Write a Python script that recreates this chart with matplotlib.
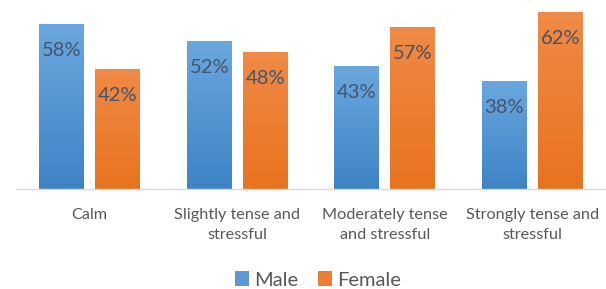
import matplotlib
matplotlib.use('Agg')
import matplotlib.pyplot as plt
import numpy as np

categories = ['Calm', 'Slightly tense and\nstressful', 'Moderately tense\nand stressful', 'Strongly tense and\nstressful']
male = [58, 52, 43, 38]
female = [42, 48, 57, 62]
series_names = ['Male', 'Female']

plt.rcParams['font.family'] = ['Lato', 'DejaVu Sans']

fig = plt.figure(figsize=(6.06, 2.89), dpi=100)
ax = fig.add_axes([16 / 606, 1 - 189 / 289, 590 / 606, 189 / 289])

x = np.arange(len(categories))
w = 0.305
off = 0.19

# gradient fills for the bars (lighter at top)
def grad_bars(bars, top_col, bot_col):
    top_col = np.array(matplotlib.colors.to_rgb(top_col))
    bot_col = np.array(matplotlib.colors.to_rgb(bot_col))
    for b in bars:
        x0, y0 = b.get_x(), b.get_y()
        x1, y1 = x0 + b.get_width(), y0 + b.get_height()
        t = np.linspace(0, 1, 64)[:, None]
        img = (bot_col * (1 - t) + top_col * t)[:, None, :]
        im = ax.imshow(img, extent=[x0, x1, y0, y1], origin='lower',
                       aspect='auto', zorder=2)
        im.set_clip_path(b)

bm = ax.bar(x - off, male, w, color='#5b9bd5', zorder=1, label=series_names[0])
bf = ax.bar(x + off, female, w, color='#ed7d31', zorder=1, label=series_names[1])
grad_bars(bm, '#6aa7de', '#3e84c5')
grad_bars(bf, '#f08a45', '#e8731f')

for bars, vals in ((bm, male), (bf, female)):
    for b, v in zip(bars, vals):
        ax.text(b.get_x() + b.get_width() / 2, v - 9.3, '%d%%' % v,
                ha='center', va='center', fontsize=14.5, color='#44546a', zorder=3)

ax.set_xlim(-0.5, 3.5)
ax.set_ylim(0, 66.3)
ax.set_xticks(x)
ax.set_xticklabels(categories, fontsize=11.7, color='#595959', linespacing=1.5)
ax.tick_params(axis='x', length=0, pad=14)
ax.set_yticks([])
for s in ['top', 'right', 'left']:
    ax.spines[s].set_visible(False)
ax.spines['bottom'].set_color('#d9d9d9')
ax.spines['bottom'].set_linewidth(1.0)

leg = fig.legend(handles=[bm, bf], labels=series_names, loc='center',
                 bbox_to_anchor=(318 / 606, 1 - 280 / 289), ncol=2, frameon=False,
                 fontsize=14.5, handlelength=0.7, handleheight=0.7,
                 handletextpad=0.25, columnspacing=1.0, labelcolor='#595959')

plt.savefig('out.png', dpi=100)
plt.close()
